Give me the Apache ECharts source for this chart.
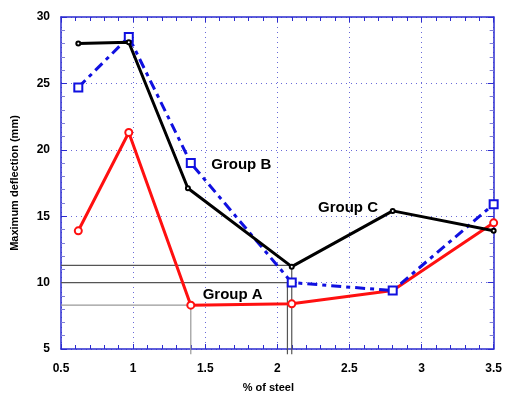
<!DOCTYPE html>
<html>
<head>
<meta charset="utf-8">
<script src="https://cdn.jsdelivr.net/npm/echarts@6/dist/echarts.min.js"></script>
<style>
  html, body { margin: 0; padding: 0; background: #fff; }
  #chart { width: 505px; height: 398px; }
</style>
</head>
<body>
<div id="chart"></div>
<script>
// data
const steel = [0.62, 0.97, 1.4, 2.1, 2.8, 3.5];
const groupA = [13.9, 21.3, 8.3, 8.4, 9.4, 14.5];
const groupB = [24.7, 28.5, 19.0, 10.0, 9.4, 15.9];
const groupCx = [0.62, 0.97, 1.38, 2.1, 2.8, 3.5];
const groupC = [28.0, 28.1, 17.1, 11.2, 15.4, 13.9];

// guide lines (reading the dips back to the axes)
const guideLines = [
  { pts: [[0.5, 11.3], [2.1, 11.3], [2.1, 4.6]], color: '#555555' },
  { pts: [[0.5, 10.0], [2.07, 10.0], [2.07, 4.6]], color: '#555555' },
  { pts: [[0.5, 8.3], [1.4, 8.3], [1.4, 4.6]], color: '#999999' }
];

// group labels, data coordinates
const labelNames = ['Group A', 'Group B', 'Group C'];
const labelPos = [[1.69, 9.1], [1.75, 18.9], [2.49, 15.6]];

const chart = echarts.init(document.getElementById('chart'), null, { renderer: 'canvas' });

const blue = '#2b2bd0';
const font = 'Liberation Sans, Arial, sans-serif';

function toPairs(xs, ys) {
  return xs.map((x, i) => [x, ys[i]]);
}

const baseX = {
  type: 'value', min: 0.5, max: 3.5, interval: 0.5,
  axisLine: { onZero: false, lineStyle: { color: blue, width: 1.5 } },
  axisTick: { inside: true, length: 5, lineStyle: { color: blue } },
  minorTick: { show: true, splitNumber: 5, length: 4, lineStyle: { color: blue } }
};
const baseY = {
  type: 'value', min: 5, max: 30, interval: 5,
  axisLine: { onZero: false, lineStyle: { color: blue, width: 1.5 } },
  axisTick: { inside: true, length: 6, lineStyle: { color: blue } },
  minorTick: { show: true, splitNumber: 5, length: 4, lineStyle: { color: '#7f7fd8' } }
};
const gridLine = { show: true, lineStyle: { color: '#6a6ad8', type: [1, 4], width: 1 } };

const series = [];
guideLines.forEach(g => {
  series.push({
    type: 'line', data: g.pts, clip: false, symbol: 'none', silent: true,
    lineStyle: { color: g.color, width: 1.2 }, z: 1
  });
});
series.push({
  name: 'Group A', type: 'line', data: toPairs(steel, groupA),
  symbol: 'emptyCircle', symbolSize: 7,
  itemStyle: { color: '#ff1010', borderWidth: 1 },
  lineStyle: { color: '#ff1010', width: 3 }, z: 3
});
series.push({
  name: 'Group B', type: 'line', data: toPairs(steel, groupB),
  symbol: 'emptyRect', symbolSize: 8,
  itemStyle: { color: '#1010e0', borderWidth: 1 },
  lineStyle: { color: '#1010e0', width: 3, type: [10, 5, 4, 5] }, z: 4
});
series.push({
  name: 'Group C', type: 'line', data: toPairs(groupCx, groupC),
  symbol: 'emptyCircle', symbolSize: 4,
  itemStyle: { color: '#000', borderWidth: 1 },
  lineStyle: { color: '#000', width: 3 }, z: 5
});
series.push({
  type: 'scatter', symbolSize: 0, silent: true, z: 6,
  itemStyle: { opacity: 1 },
  data: labelPos.map((p, i) => ({ value: p, name: labelNames[i] })),
  label: {
    show: true, position: 'inside', formatter: '{b}',
    color: '#000', fontWeight: 'bold', fontSize: 15, fontFamily: font
  }
});

const option = {
  animation: false,
  grid: { left: 61, right: 8, top: 17, bottom: 48 },
  xAxis: [
    Object.assign({}, baseX, {
      position: 'bottom',
      name: '% of steel', nameLocation: 'middle', nameGap: 33,
      nameTextStyle: { color: '#000', fontWeight: 'bold', fontSize: 11, fontFamily: font, padding: [0, 18, 0, 0] },
      axisLabel: { color: '#000', fontWeight: 'bold', fontSize: 12, fontFamily: font, margin: 14 },
      splitLine: gridLine
    }),
    Object.assign({}, baseX, {
      position: 'top', axisLabel: { show: false }, splitLine: { show: false }
    })
  ],
  yAxis: [
    Object.assign({}, baseY, {
      position: 'left',
      name: 'Maximum deflection (mm)', nameLocation: 'middle', nameGap: 41,
      nameTextStyle: { color: '#000', fontWeight: 'bold', fontSize: 11, fontFamily: font },
      axisLabel: { color: '#000', fontWeight: 'bold', fontSize: 12, fontFamily: font, margin: 11 },
      splitLine: gridLine
    }),
    Object.assign({}, baseY, {
      position: 'right', axisLabel: { show: false }, splitLine: { show: false }
    })
  ],
  series: series
};

chart.setOption(option);
</script>
</body>
</html>
